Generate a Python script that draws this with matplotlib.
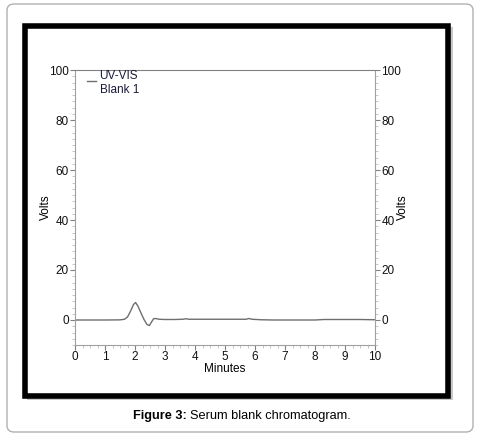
import matplotlib
matplotlib.use("Agg")
from matplotlib import pyplot as plt
from matplotlib.patches import Rectangle, FancyBboxPatch
import numpy as np

plt.rcParams['font.family'] = ['Liberation Sans', 'DejaVu Sans']

# chromatogram trace
minutes = [0.0, 0.5, 1.0, 1.5, 1.65, 1.75, 1.85, 1.95, 2.02, 2.1, 2.2, 2.3, 2.4, 2.48,
           2.55, 2.62, 2.7, 2.8, 3.0, 3.3, 3.6, 3.7, 3.8, 4.2, 5.0, 5.7, 5.8, 5.9,
           6.2, 6.6, 7.0, 7.5, 8.0, 8.3, 8.6, 9.0, 9.5, 10.0]
volts = [0.0, 0.0, 0.0, 0.05, 0.3, 1.2, 3.5, 6.2, 7.0, 5.5, 2.8, 0.2, -1.8, -2.2,
         -0.8, 0.5, 0.6, 0.3, 0.2, 0.2, 0.3, 0.5, 0.3, 0.3, 0.3, 0.3, 0.6, 0.3,
         0.1, 0.0, 0.0, 0.0, 0.0, 0.2, 0.2, 0.2, 0.2, 0.1]

x_ticks = [0, 1, 2, 3, 4, 5, 6, 7, 8, 9, 10]
y_ticks = [0, 20, 40, 60, 80, 100]

W, H = 478, 436
fig = plt.figure(figsize=(W / 100, H / 100), dpi=100)

# outer rounded border
fig.patches.append(FancyBboxPatch((7 / W, 1 - 432 / H), 466 / W, 428 / H,
                                  boxstyle="round,pad=0,rounding_size=0.015",
                                  transform=fig.transFigure, fill=False,
                                  edgecolor="#b0b0b0", linewidth=1.0, zorder=-3))
# shadow + black frame
fig.patches.append(Rectangle((27 / W, 1 - 400 / H), 426 / W, 373 / H,
                             transform=fig.transFigure, facecolor="#c8c8c8",
                             edgecolor="none", zorder=-2))
fig.patches.append(Rectangle((25 / W, 1 - 396 / H), 423 / W, 370 / H,
                             transform=fig.transFigure, facecolor="white",
                             edgecolor="black", linewidth=4.0, zorder=-1))

ax = fig.add_axes([75 / W, 1 - 345 / H, 300 / W, 275 / H])
ax.patch.set_alpha(0)
ax.plot(minutes, volts, color="#6e6e6e", linewidth=1.0)
ax.set_xlim(0, 10)
ax.set_ylim(-10, 100)
ax.set_xticks(x_ticks)
ax.set_yticks(y_ticks)
ax.set_xticks(np.arange(0, 10.01, 0.25), minor=True)
ax.set_yticks(np.arange(-10, 100.01, 2.5), minor=True)

for s in ax.spines.values():
    s.set_color("#a0a0a0")
    s.set_linewidth(0.8)
ax.spines['top'].set_color("#808080")
ax.spines['left'].set_linestyle((0, (1, 1)))
ax.spines['right'].set_linestyle((0, (1, 1)))
ax.spines['bottom'].set_linestyle((0, (1, 1)))

ax.tick_params(which="major", length=3.5, width=0.8, color="#808080",
               labelsize=8.5, labelcolor="#111111", pad=1)
ax.tick_params(which="minor", length=2, width=0.5, color="#b0b0b0")
ax.tick_params(axis="y", which="both", right=True, labelright=True)
ax.set_xlabel("Minutes", fontsize=8.5, labelpad=0)
ax.set_ylabel("Volts", fontsize=8.5)
ax.yaxis.set_label_coords(-0.078, 0.5)
sec = ax.secondary_yaxis("right")
sec.set_yticks([])
sec.spines['right'].set_visible(False)
sec.set_ylabel("Volts", fontsize=8.5, labelpad=16)

# legend entry
ax.plot([0.4, 0.7], [95.5, 95.5], color="#6e6e6e", linewidth=1.0)
ax.text(0.82, 97.5, "UV-VIS", fontsize=8.5, va="center", color="#1a1a3a")
ax.text(0.82, 92, "Blank 1", fontsize=8.5, va="center", color="#1a1a3a")

# caption
fig.text(187 / W, 1 - 416 / H, "Figure 3:", ha="right", va="center",
         fontsize=9.2, fontweight="bold")
fig.text(190 / W, 1 - 416 / H, "Serum blank chromatogram.", ha="left",
         va="center", fontsize=9.2)

fig.savefig("out.png", dpi=100)
